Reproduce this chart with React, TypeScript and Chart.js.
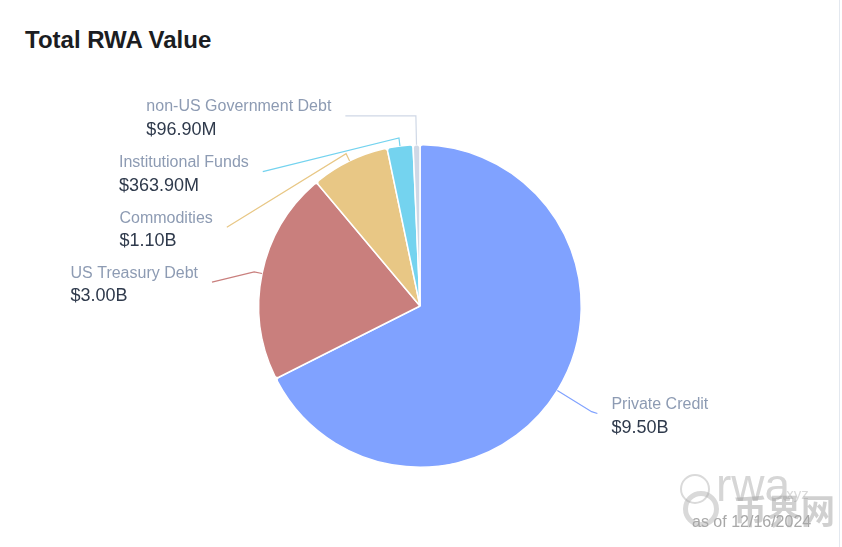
import React, { useEffect, useRef } from "react";
import { Chart, registerables } from "chart.js";

Chart.register(...registerables);

const categories = [
  "Private Credit",
  "US Treasury Debt",
  "Commodities",
  "Institutional Funds",
  "non-US Government Debt",
];
const values = [9.5, 3.0, 1.1, 0.3639, 0.0969]; // USD billions
const valueLabels = ["$9.50B", "$3.00B", "$1.10B", "$363.90M", "$96.90M"];
const colors = ["#80A2FF", "#C97F7D", "#E8C785", "#74D3EF", "#CFD8E6"];

// leader line layout, in units of the pie radius, relative to the pie centre
const labelElbow = [1.25, 1.05, 1.05, 1.05, 1.18];
const labelEndX = [1.1, -1.29, -1.198, -0.975, -0.463];
const labelEndY = [0.667, -0.148, -0.488, -0.833, -1.179];

const FONT = '"Liberation Sans", Arial, Helvetica, sans-serif';

const labelPlugin = {
  id: "leaderLabels",
  afterDatasetsDraw(chart: any) {
    const ctx = chart.ctx;
    const meta = chart.getDatasetMeta(0);
    meta.data.forEach((arc: any, i: number) => {
      const { x, y, startAngle, endAngle, outerRadius } = arc.getProps(
        ["x", "y", "startAngle", "endAngle", "outerRadius"],
        true
      );
      const mid = (startAngle + endAngle) / 2;
      const c = Math.cos(mid);
      const s = Math.sin(mid);
      const r = outerRadius;
      const p0x = x + c * r;
      const p0y = y + s * r;
      const p1x = x + c * r * labelElbow[i];
      const p1y = y + s * r * labelElbow[i];
      const p2x = x + labelEndX[i] * r;
      const p2y = y + labelEndY[i] * r;
      ctx.save();
      ctx.strokeStyle = colors[i];
      ctx.lineWidth = 1.2;
      ctx.beginPath();
      ctx.moveTo(p0x, p0y);
      ctx.lineTo(p1x, p1y);
      ctx.lineTo(p2x, p2y);
      ctx.stroke();

      const right = labelEndX[i] > 0;
      ctx.textBaseline = "middle";
      ctx.textAlign = "left";
      ctx.font = `16px ${FONT}`;
      const w1 = ctx.measureText(categories[i]).width;
      ctx.font = `18px ${FONT}`;
      const w2 = ctx.measureText(valueLabels[i]).width;
      const bw = Math.max(w1, w2);
      const left = right ? p2x + 14 : p2x - 14 - bw;
      ctx.font = `16px ${FONT}`;
      ctx.fillStyle = "#8D9BB3";
      ctx.fillText(categories[i], left, p2y - 9);
      ctx.font = `18px ${FONT}`;
      ctx.fillStyle = "#2F3A4C";
      ctx.fillText(valueLabels[i], left, p2y + 14);
      ctx.restore();
    });
  },
};

export default function App() {
  const ref = useRef<HTMLCanvasElement | null>(null);

  useEffect(() => {
    document.body.style.margin = "0";
    const chart = new Chart(ref.current as HTMLCanvasElement, {
      type: "pie",
      data: {
        labels: categories,
        datasets: [
          {
            data: values,
            backgroundColor: colors,
            borderColor: "#ffffff",
            borderWidth: 1.5,
            borderRadius: 3,
          },
        ],
      },
      options: {
        animation: false,
        responsive: true,
        maintainAspectRatio: false,
        layout: { padding: { left: 258, top: 144, right: 260, bottom: 79 } },
        plugins: {
          legend: { display: false },
          tooltip: { enabled: false },
          title: { display: false },
        },
      },
      plugins: [labelPlugin],
    });
    return () => chart.destroy();
  }, []);

  return (
    <div
      style={{
        position: "absolute",
        left: 0,
        top: 0,
        width: 842,
        height: 547,
        background: "#ffffff",
        overflow: "hidden",
        fontFamily: FONT,
      }}
    >
      <div
        style={{
          position: "absolute",
          left: 0,
          top: 0,
          width: 840,
          height: 547,
          borderRight: "1px solid #E3E8EF",
          boxSizing: "border-box",
        }}
      />
      <div
        style={{
          position: "absolute",
          left: 25,
          top: 25,
          fontSize: 24,
          fontWeight: 700,
          color: "#1B1D22",
          lineHeight: "30px",
          letterSpacing: 0,
        }}
      >
        Total RWA Value
      </div>
      <canvas ref={ref} style={{ position: "absolute", left: 0, top: 0, width: 842, height: 547 }} />
      {/* watermark */}
      <div style={{ position: "absolute", left: 680, top: 474, width: 30, height: 30, borderRadius: 15, border: "2px solid #DADADA", boxSizing: "border-box" }} />
      <div style={{ position: "absolute", left: 716, top: 462, fontSize: 46, color: "#D6D6D6", lineHeight: "46px" }}>rwa</div>
      <div style={{ position: "absolute", left: 782, top: 486, fontSize: 15, color: "#DADADA", lineHeight: "16px" }}>.xyz</div>
      <div style={{ position: "absolute", left: 683, top: 491, width: 36, height: 36, borderRadius: 18, border: "5px solid rgba(170,170,170,0.45)", boxSizing: "border-box" }} />
      <div style={{ position: "absolute", left: 733, top: 492, fontSize: 34, fontWeight: 700, color: "rgba(150,150,150,0.45)", lineHeight: "36px", fontFamily: '"Noto Sans CJK SC", sans-serif' }}>币界网</div>
      <div style={{ position: "absolute", left: 692, top: 512, fontSize: 16, color: "#A8A8A8", lineHeight: "20px" }}>as of 12/16/2024</div>
    </div>
  );
}
